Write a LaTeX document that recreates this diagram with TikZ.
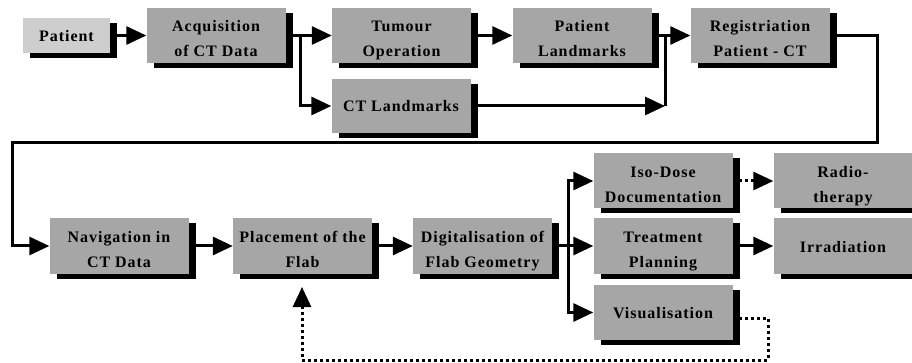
\documentclass[tikz,border=0pt]{standalone}
\usepackage{fontspec}
\usepackage{xcolor}
\usepackage{tikz}
\usetikzlibrary{positioning}
\usetikzlibrary{arrows.meta}
\usetikzlibrary{shadows}
\newfontfamily\stagefont{Liberation Serif}[LetterSpace=6]
\pgfdeclarelayer{nodelayer}
\pgfdeclarelayer{edgelayer}
\pgfsetlayers{nodelayer,edgelayer,main}
\definecolor{stagegray}{RGB}{166,166,166}
\definecolor{patientgray}{RGB}{206,206,206}
\tikzset{
    none/.style = {inner sep=0pt},
    stage/.style = {fill=stagegray, minimum width=139pt, minimum height=55pt,
        inner sep=0pt, align=center, text height=43pt, text depth=0pt,
        font=\stagefont\bfseries\fontsize{16}{25}\selectfont,
        drop shadow={shadow xshift=7pt, shadow yshift=-5pt, fill=black, opacity=1}},
    oneline/.style = {text height=12pt},
    patientstage/.style = {stage, oneline, fill=patientgray, minimum width=87pt, minimum height=35pt},
    joint/.style = {line width=3pt, line join=miter},
    flow/.style = {joint, -{Triangle[length=20pt, width=18pt]}},
    dotflow/.style = {flow, dash pattern=on 3pt off 3pt}
}

\begin{document}
\begin{tikzpicture}[x=1pt, y=-1pt]
  \useasboundingbox (0, 0) rectangle (912, 363);
  \begin{pgfonlayer}{nodelayer}
    \node [style=patientstage] (0) at (66.5, 35.5) {Patient};
    \node [style=stage] (1) at (216, 35.5) {Acquisition\\of CT Data};
    \node [style=stage] (2) at (401.5, 35.5) {Tumour\\Operation};
    \node [style=stage] (3) at (582, 35.5) {Patient\\Landmarks};
    \node [style=stage] (4) at (760, 35.5) {Registriation\\Patient - CT};
    \node [style=stage, oneline, minimum height=54pt] (5) at (401, 106) {CT Landmarks};
    \node [style=stage] (6) at (119, 246) {Navigation in\\CT Data};
    \node [style=stage] (7) at (302.5, 246) {Placement of the\\Flab};
    \node [style=stage] (8) at (482.5, 246) {Digitalisation of\\Flab Geometry};
    \node [style=stage] (9) at (663, 181) {Iso-Dose\\Documentation};
    \node [style=stage] (10) at (663, 246) {Treatment\\Planning};
    \node [style=stage, oneline] (11) at (663, 312.5) {Visualisation};
    \node [style=stage] (12) at (843, 181) {Radio-\\therapy};
    \node [style=stage, oneline] (13) at (843, 246) {Irradiation};
    % waypoints
    \node [style=none] (14) at (300, 35.5) {};
    \node [style=none] (15) at (665, 106) {};
    \node [style=none] (16) at (665, 35.5) {};
    \node [style=none] (17) at (877, 35.5) {};
    \node [style=none] (18) at (877, 143) {};
    \node [style=none] (19) at (12, 143) {};
    \node [style=none] (20) at (12, 246) {};
    \node [style=none] (21) at (568, 246) {};
    \node [style=none] (22) at (733, 318) {};
    \node [style=none] (23) at (768, 318) {};
    \node [style=none] (24) at (768, 360) {};
    \node [style=none] (25) at (302, 360) {};
    \node [style=none] (26) at (302, 287) {};
  \end{pgfonlayer}
  \begin{pgfonlayer}{edgelayer}
    \draw [style=flow] (0) to (1);
    \draw [style=flow] (1) to (2);
    \draw [style=flow] (14.center) |- (5);
    \draw [style=flow] (2) to (3);
    \draw [style=flow] (3) to (4);
    \draw [style=flow] (5) to (15.center);
    \draw [style=joint] (15.center) to (16.center);
    \draw [style=flow] (4) -- (17.center) -- (18.center) -- (19.center) -- (20.center) -- (6);
    \draw [style=flow] (6) to (7);
    \draw [style=flow] (7) to (8);
    \draw [style=joint] (8) to (21.center);
    \draw [style=flow] (21.center) |- (9);
    \draw [style=flow] (21.center) to (10);
    \draw [style=flow] (21.center) |- (11);
    \draw [style=dotflow] (9) to (12);
    \draw [style=flow] (10) to (13);
    \draw [style=dotflow] (22.center) -- (23.center) -- (24.center) -- (25.center) -- (26.center);
  \end{pgfonlayer}
\end{tikzpicture}
\end{document}
